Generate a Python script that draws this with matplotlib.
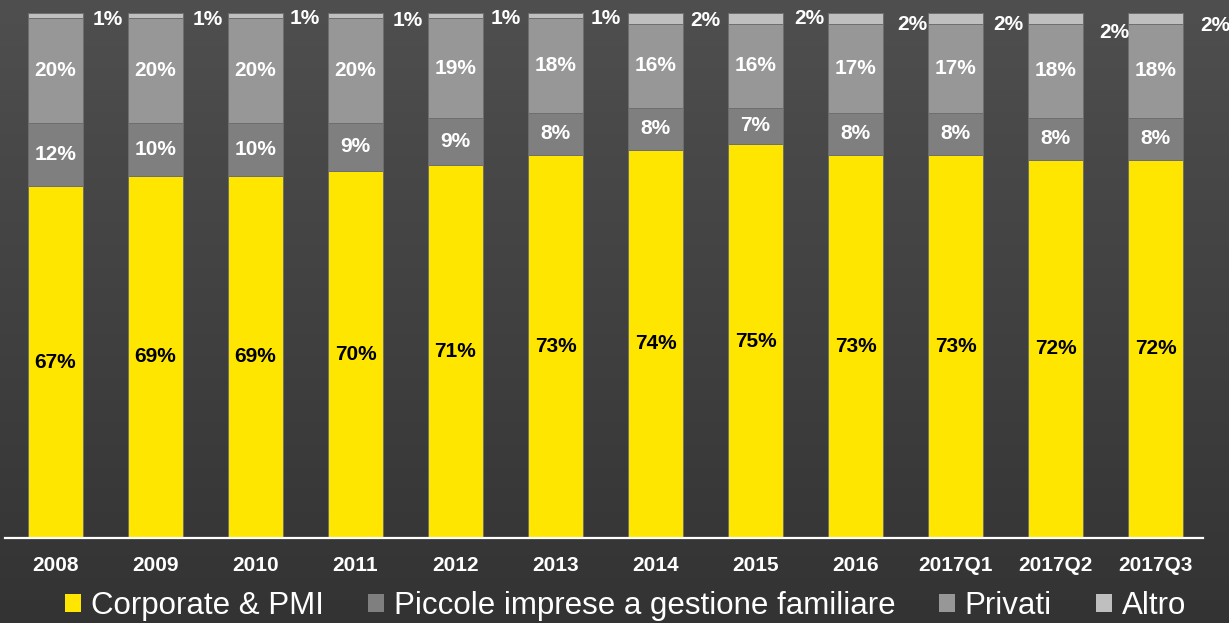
import matplotlib
matplotlib.use('Agg')
import matplotlib.pyplot as plt
import numpy as np
from matplotlib.patches import Patch

plt.rcParams['font.family'] = ['Liberation Sans', 'DejaVu Sans']

# data (percentages)
periods = ['2008', '2009', '2010', '2011', '2012', '2013', '2014', '2015',
           '2016', '2017Q1', '2017Q2', '2017Q3']
corporate = [67, 69, 69, 70, 71, 73, 74, 75, 73, 73, 72, 72]
piccole = [12, 10, 10, 9, 9, 8, 8, 7, 8, 8, 8, 8]
privati = [20, 20, 20, 20, 19, 18, 16, 16, 17, 17, 18, 18]
altro = [1, 1, 1, 1, 1, 1, 2, 2, 2, 2, 2, 2]

series_names = ['Corporate & PMI', 'Piccole imprese a gestione familiare', 'Privati', 'Altro']
colors = ['#FFE600', '#7F7F7F', '#979797', '#BFBFBF']

# where the small "Altro" labels sit (right of each bar)
altro_dx = [0.52, 0.525, 0.495, 0.525, 0.505, 0.50, 0.495, 0.535, 0.565, 0.525, 0.585, 0.60]
altro_y = [98.7, 98.7, 99.0, 98.5, 99.0, 99.0, 98.5, 99.0, 97.9, 97.9, 96.2, 97.7]

W, H = 1229, 623
fig = plt.figure(figsize=(W / 100, H / 100), dpi=100)

# background gradient
bg = fig.add_axes([0, 0, 1, 1], zorder=-1)
grad = np.linspace(79, 51, 256).reshape(-1, 1) / 255.0
bg.imshow(np.dstack([grad, grad, grad]), aspect='auto', extent=[0, 1, 0, 1])
bg.axis('off')

ax = fig.add_axes([5 / W, (H - 538) / H, 1198 / W, 525 / H])
ax.patch.set_alpha(0)

x = np.arange(len(periods))
bw = 0.55
bottom = np.zeros(len(periods))
for vals, col, name in zip([corporate, piccole, privati, altro], colors, series_names):
    ax.bar(x, vals, bw, bottom=bottom, color=col, edgecolor='#6e6e6e',
           linewidth=0.7, label=name, zorder=2)
    if name != 'Altro':
        tc = 'black' if name == 'Corporate & PMI' else 'white'
        for i, v in enumerate(vals):
            ax.text(x[i], bottom[i] + v / 2, f'{v}%', ha='center', va='center',
                    color=tc, fontsize=15, fontweight='bold', zorder=3)
    bottom += np.array(vals)

for i, v in enumerate(altro):
    ax.text(x[i] + altro_dx[i], altro_y[i], f'{v}%', ha='center', va='center',
            color='white', fontsize=15, fontweight='bold', clip_on=False)

ax.set_xlim(-0.505, 11.475)
ax.set_ylim(0, 100)
ax.set_yticks([])
ax.set_xticks(x)
ax.set_xticklabels(periods, color='white', fontsize=15, fontweight='bold')
ax.tick_params(axis='x', length=0, pad=13)
for s in ['top', 'left', 'right']:
    ax.spines[s].set_visible(False)
ax.spines['bottom'].set_color('white')
ax.spines['bottom'].set_linewidth(1.6)

handles = [Patch(facecolor=c, edgecolor='none') for c in colors]
leg = fig.legend(handles, series_names, loc='center left',
                 bbox_to_anchor=(65 / W, 1 - 606 / H), ncol=4, frameon=False,
                 fontsize=22.5, handlelength=0.51, handleheight=0.51,
                 handletextpad=0.32, columnspacing=1.4, borderpad=0,
                 borderaxespad=0)
for t in leg.get_texts():
    t.set_color('white')

fig.savefig('out.png', dpi=100)
